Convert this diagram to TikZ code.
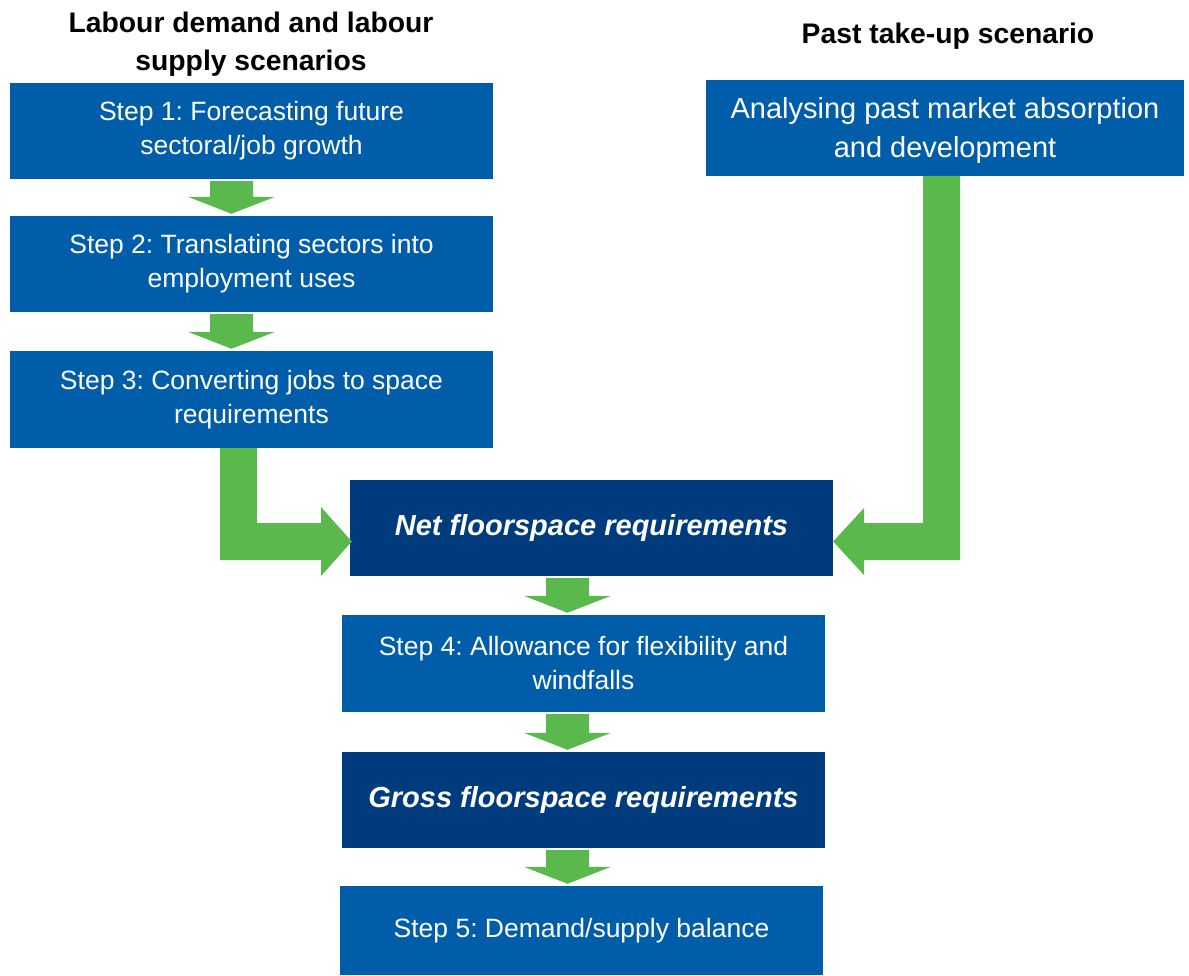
\documentclass[tikz,border=0pt]{standalone}
\usepackage{fontspec}
\setmainfont{Liberation Sans}
\usetikzlibrary{calc}
\frenchspacing
\definecolor{midblue}{HTML}{005DAA}
\definecolor{navy}{HTML}{003C7D}
\definecolor{arrowgreen}{HTML}{5AB94C}
\tikzset{
  box/.style={fill=midblue, text=white, minimum width=483pt, inner sep=0pt, align=center,
    font=\fontsize{26.5}{34}\selectfont},
  keybox/.style={fill=navy, text=white, minimum width=483pt, inner sep=0pt, align=center,
    font=\fontsize{29}{35}\selectfont\bfseries\itshape},
  title/.style={text=black, align=center, inner sep=0pt, font=\fontsize{28.3}{38}\selectfont\bfseries},
  garrow/.style={fill=arrowgreen, draw=none}
}
\newcommand\dnarrow[3]{% #1 x-coordinate name, #2 upper node, #3 lower node
  \fill[garrow] ($(#1 |- #2.south)+(-21.5,2)$) -- ($(#1 |- #2.south)+(21.5,2)$)
    -- ($(#1 |- #3.north)+(21.5,-19)$) -- ($(#1 |- #3.north)+(43.5,-19)$)
    -- ($(#1 |- #3.north)+(0,-2)$) -- ($(#1 |- #3.north)+(-43.5,-19)$)
    -- ($(#1 |- #3.north)+(-21.5,-19)$) -- cycle;}
\begin{document}
\begin{tikzpicture}[x=1pt,y=-1pt]
\useasboundingbox (0,0) rectangle (1189,976);
\fill[white] (0,0) rectangle (1189,976);

\node[title] (t1) at (251,44) {Labour demand and labour\\supply scenarios};
\node[title] (t2) at (948,36) {Past take-up scenario};

\node[box, minimum height=96pt] (s1) at (251.5,131) {Step 1: Forecasting future\\sectoral/job growth};
\node[box, minimum height=96pt] (s2) at (251.5,264) {Step 2: Translating sectors into\\employment uses};
\node[box, minimum height=97pt] (s3) at (251.5,399.5) {Step 3: Converting jobs to space\\requirements};
\node[box, minimum width=478pt, minimum height=96pt] (past) at (945,128) {};
\node[text=white, align=center, inner sep=0pt, font=\fontsize{29}{39}\selectfont] (pasttext) at (945,131) {Analysing past market absorption\\and development};
\node[keybox, minimum height=96pt] (net) at (591.5,528) {Net floorspace requirements};
\node[box, minimum height=97pt] (s4) at (583.5,663.5) {Step 4: Allowance for flexibility and\\windfalls};
\node[keybox, minimum height=96pt] (gross) at (583.5,800) {Gross floorspace requirements};
\node[box, minimum height=89pt] (s5) at (581.5,930.5) {Step 5: Demand/supply balance};

\coordinate (ax1) at (231.5,0);
\coordinate (ax2) at (567.5,0);

\dnarrow{ax1}{s1}{s2}
\dnarrow{ax1}{s2}{s3}
\dnarrow{ax2}{net}{s4}
\dnarrow{ax2}{s4}{gross}
\dnarrow{ax2}{gross}{s5}

% L-shaped arrow from Step 3 into Net floorspace
\fill[garrow] (220,448) -- (257,448) -- (257,523) -- (321,523) -- (321,507)
  -- ($(net.west)+(2,13.5)$) -- (321,576) -- (321,560) -- (220,560) -- cycle;
% L-shaped arrow from past take-up into Net floorspace
\fill[garrow] (923,176) -- (960,176) -- (960,560) -- (864,560) -- (864,575)
  -- ($(net.east)+(0,13.5)$) -- (864,508) -- (864,523) -- (923,523) -- cycle;
\end{tikzpicture}
\end{document}
